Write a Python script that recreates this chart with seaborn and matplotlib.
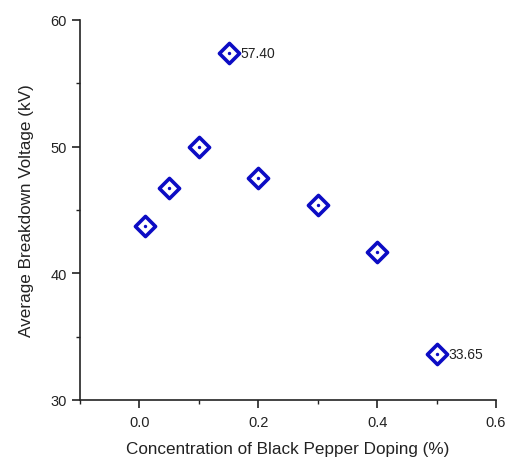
import matplotlib
matplotlib.use("Agg")
import matplotlib.pyplot as plt
import seaborn as sns
import pandas as pd
from matplotlib.ticker import MultipleLocator

sns.set_theme(style="ticks")
plt.rcParams['font.family'] = ['Liberation Sans', 'DejaVu Sans']

concentration = [0.01, 0.05, 0.10, 0.15, 0.20, 0.30, 0.40, 0.50]
voltage = [43.75, 46.75, 50.00, 57.40, 47.50, 45.40, 41.65, 33.65]
labelled = [3, 7]

df = pd.DataFrame({"c": concentration, "v": voltage})

fig = plt.figure(figsize=(5.08, 4.60), dpi=100)
ax = fig.add_axes([80/508, 1-401/460, 416/508, 380/460])

blue = "#0C0CC4"
sns.scatterplot(data=df, x="c", y="v", ax=ax, marker="D", s=105,
                facecolor="white", edgecolor=blue, linewidth=2.6, zorder=3)
sns.scatterplot(data=df, x="c", y="v", ax=ax, marker="o", s=6,
                color=blue, edgecolor=blue, linewidth=0, zorder=4)

for i in labelled:
    ax.annotate(f"{voltage[i]:.2f}", (concentration[i], voltage[i]),
                xytext=(8.5, 0), textcoords="offset points", va="center",
                ha="left", fontsize=10, color="#222222")

ax.set_xlim(-0.1, 0.6)
ax.set_ylim(30, 60)
ax.xaxis.set_major_locator(MultipleLocator(0.2))
ax.xaxis.set_minor_locator(MultipleLocator(0.1))
ax.yaxis.set_major_locator(MultipleLocator(10))
ax.yaxis.set_minor_locator(MultipleLocator(5))
ax.set_xticks([0.0, 0.2, 0.4, 0.6])
ax.set_xticklabels(["0.0", "0.2", "0.4", "0.6"])
ax.tick_params(which="major", direction="out", length=6, width=1.2,
               colors="#222222", labelsize=10.5)
ax.tick_params(axis="x", which="major", pad=4.5)
ax.tick_params(axis="y", which="major", pad=3.5)
ax.tick_params(which="minor", direction="out", length=3, width=1.0, colors="#222222")
for s in ["top", "right"]:
    ax.spines[s].set_visible(False)
for s in ["left", "bottom"]:
    ax.spines[s].set_linewidth(1.2)
    ax.spines[s].set_color("#222222")

ax.set_xlabel("Concentration of Black Pepper Doping (%)", fontsize=12.3,
              color="#222222", labelpad=9)
ax.set_ylabel("Average Breakdown Voltage (kV)", fontsize=12.3,
              color="#222222", labelpad=12)

fig.savefig("out.png", dpi=100)
